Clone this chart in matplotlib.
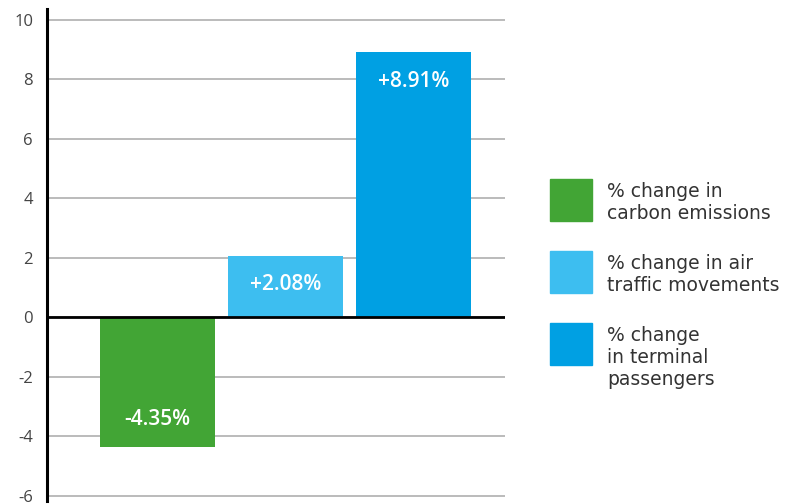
import matplotlib
matplotlib.use('Agg')
from matplotlib import pyplot as plt
from matplotlib.patches import Rectangle

categories = ['% change in\ncarbon emissions',
              '% change in air\ntraffic movements',
              '% change\nin terminal\npassengers']
values = [-4.35, 2.08, 8.91]
value_labels = ['-4.35%', '+2.08%', '+8.91%']
colors = ['#42a535', '#3dbef0', '#00a0e3']
yticks = [-6, -4, -2, 0, 2, 4, 6, 8, 10]

plt.rcParams['font.family'] = ['Open Sans', 'DejaVu Sans']
plt.rcParams['axes.unicode_minus'] = False

fig = plt.figure(figsize=(8.1, 5.04), dpi=100)
ax = fig.add_axes([47 / 810, 3 / 504, 458 / 810, 492 / 504])

x = list(range(len(values)))
bars = ax.bar(x, values, width=0.9, color=colors, zorder=2)

for bar, val, lab in zip(bars, values, value_labels):
    cx = bar.get_x() + bar.get_width() / 2
    off = -21 if val > 0 else 20
    ax.annotate(lab, (cx, val), xytext=(0, off), textcoords='offset points',
                ha='center', va='center', color='white', fontsize=15,
                fontweight='semibold', zorder=3)

ax.set_xlim(-0.863, 2.715)
ax.set_ylim(-6.17, 10.37)
ax.set_yticks(yticks)
ax.set_xticks([])
ax.yaxis.grid(True, color='#b5b5b5', linewidth=1.3, zorder=0)
ax.axhline(0, color='black', linewidth=2, zorder=3)
ax.tick_params(axis='y', length=0, labelsize=12, labelcolor='#444444', pad=10)
for s in ['top', 'right', 'bottom']:
    ax.spines[s].set_visible(False)
ax.spines['left'].set_linewidth(2.2)
ax.spines['left'].set_color('black')

# legend drawn by hand, pixel positions from the top of the figure
sq_tops = [179, 251, 323]
for top, col, cat in zip(sq_tops, colors, categories):
    fig.patches.append(Rectangle((550 / 810, 1 - (top + 42) / 504), 42 / 810, 42 / 504,
                                 transform=fig.transFigure, color=col))
    fig.text(607 / 810, 1 - (top + 3) / 504, cat, ha='left', va='top',
             fontsize=13.5, color='#333333', linespacing=1.2,
             family='DejaVu Sans')

plt.savefig('out.png', dpi=100)
